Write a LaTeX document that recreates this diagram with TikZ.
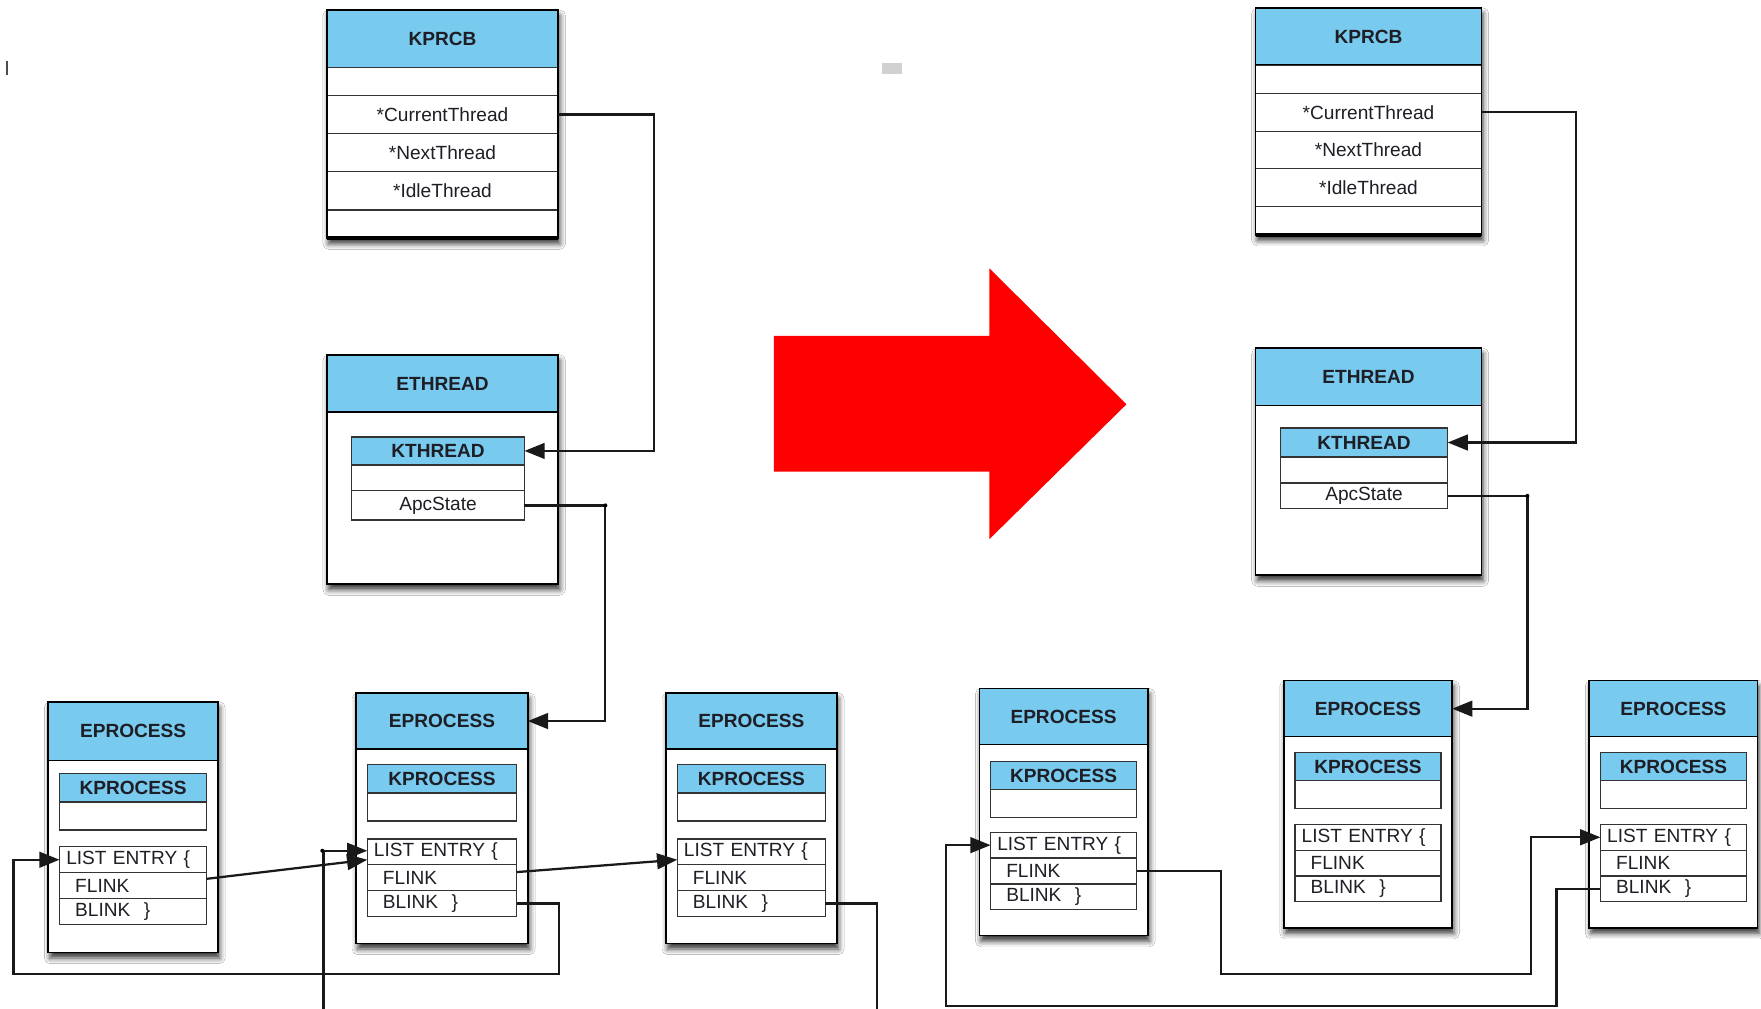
\documentclass[tikz,border=0pt]{standalone}
\usepackage{fontspec}
\setmainfont{Liberation Sans}
\usetikzlibrary{arrows.meta,shadows.blur}
\definecolor{hblue}{RGB}{120,202,238}
\definecolor{txt}{RGB}{30,30,38}
\newcommand{\fs}{\fontsize{17}{19}\selectfont}
\newcommand{\cellnode}[7]{%
  \pgfmathsetmacro\cellW{(#5)-(#3)}\pgfmathsetmacro\cellH{(#6)-(#4)}%
  \node[#2, minimum width=\cellW pt, minimum height=\cellH pt] (#1) at ({((#3)+(#5))/2},{-((#4)+(#6))/2}) {#7};}
\newcommand{\lcell}[8]{%
  \pgfmathsetmacro\cellW{(#5)-(#3)}\pgfmathsetmacro\cellH{(#6)-(#4)}\pgfmathsetmacro\cellT{(#5)-(#3)-2*(#7)}%
  \node[#2, minimum width=\cellW pt, minimum height=\cellH pt, inner xsep=#7pt, text width=\cellT pt, align=left] (#1) at ({((#3)+(#5))/2},{-((#4)+(#6))/2}) {#8};}
\newcommand{\eproc}[8]{%
  \pgfmathsetmacro\ixa{#2+10}\pgfmathsetmacro\ixb{#3-10}%
  \pgfmathsetmacro\kpa{#7+25}\pgfmathsetmacro\kpb{#7+50}%
  \pgfmathsetmacro\la{#8+23}\pgfmathsetmacro\lb{#8+46}\pgfmathsetmacro\lc{#8+69}%
  \cellnode{#1o}{outer}{#2}{#4}{#3}{#6}{}
  \cellnode{#1h}{hdr}{#2}{#4}{#3}{#5}{EPROCESS}
  \cellnode{#1k}{innerhdr}{\ixa}{#7}{\ixb}{\kpa}{KPROCESS}
  \cellnode{#1b}{row}{\ixa}{\kpa}{\ixb}{\kpb}{}
  \lcell{#1le}{row}{\ixa}{#8}{\ixb}{\la}{6}{LIST ENTRY \{}
  \lcell{#1fl}{row}{\ixa}{\la}{\ixb}{\lb}{14}{FLINK}
  \lcell{#1bl}{row}{\ixa}{\lb}{\ixb}{\lc}{14}{BLINK\hspace{12pt}\}}
  \draw[boxline] (#1o.north west) rectangle (#1o.south east);}
\begin{document}
\begin{tikzpicture}[x=1pt,y=1pt,
  cellbase/.style={rectangle, inner sep=0pt, outer sep=0pt, font=\fs, text=txt},
  outer/.style={cellbase, draw=black, line width=1.5pt, fill=white,
     blur shadow={shadow xshift=1.5pt, shadow yshift=-5pt, shadow blur radius=5pt, shadow opacity=80}},
  hdr/.style={cellbase, draw=black, line width=1.3pt, fill=hblue, font=\fs\bfseries},
  innerhdr/.style={cellbase, draw=black!80, line width=1.1pt, fill=hblue, font=\fs\bfseries},
  row/.style={cellbase, draw=black!80, line width=1.1pt, fill=white},
  boxline/.style={draw=black, line width=1.5pt},
  conn/.style={draw=black!90, line width=2pt},
  arr/.style={conn, -{Triangle[length=18pt,width=14pt]}}]
\fill[white] (0,0) rectangle (1568,-898);
\useasboundingbox (0,0) rectangle (1568,-898);
% stray marks
\fill[black!70] (5,-54) rectangle (6.8,-67);
\fill[black!18] (785,-56) rectangle (803,-66);
% ---------- left KPRCB
\cellnode{kplo}{outer}{291}{9}{497}{212}{}
\cellnode{kplh}{hdr}{291}{9}{497}{60}{KPRCB}
\cellnode{kpl0}{row}{291}{60}{497}{85}{}
\cellnode{kplc}{row}{291}{85}{497}{119}{*CurrentThread}
\cellnode{kpln}{row}{291}{119}{497}{153}{*NextThread}
\cellnode{kpli}{row}{291}{153}{497}{187}{*IdleThread}
\cellnode{kpl4}{row}{291}{187}{497}{212}{}
\draw[boxline] (kplo.north west) rectangle (kplo.south east);
\draw[line width=3.5pt] (kplo.south west) -- (kplo.south east);
% ---------- right KPRCB
\cellnode{kpro}{outer}{1118}{7}{1319}{209}{}
\cellnode{kprh}{hdr}{1118}{7}{1319}{58}{KPRCB}
\cellnode{kpr0}{row}{1118}{58}{1319}{83}{}
\cellnode{kprc}{row}{1118}{83}{1319}{117}{*CurrentThread}
\cellnode{kprn}{row}{1118}{117}{1319}{150}{*NextThread}
\cellnode{kpri}{row}{1118}{150}{1319}{184}{*IdleThread}
\cellnode{kpr4}{row}{1118}{184}{1319}{209}{}
\draw[boxline] (kpro.north west) rectangle (kpro.south east);
\draw[line width=3.5pt] (kpro.south west) -- (kpro.south east);
% ---------- left ETHREAD
\cellnode{etlo}{outer}{291}{316}{497}{520}{}
\cellnode{etlh}{hdr}{291}{316}{497}{367}{ETHREAD}
\cellnode{ktlh}{innerhdr}{313}{389}{467}{414}{KTHREAD}
\cellnode{ktl1}{row}{313}{414}{467}{437}{}
\cellnode{ktla}{row}{313}{437}{467}{463}{ApcState}
\draw[boxline] (etlo.north west) rectangle (etlo.south east);
% ---------- right ETHREAD
\cellnode{etro}{outer}{1118}{310}{1319}{512}{}
\cellnode{etrh}{hdr}{1118}{310}{1319}{361}{ETHREAD}
\cellnode{ktrh}{innerhdr}{1140}{381}{1289}{407}{KTHREAD}
\cellnode{ktr1}{row}{1140}{407}{1289}{430}{}
\cellnode{ktra}{row}{1140}{430}{1289}{453}{ApcState}
\draw[boxline] (etro.north west) rectangle (etro.south east);
% ---------- EPROCESS boxes
\eproc{A}{43}{194}{625}{677}{848}{689}{754}
\eproc{B}{317}{470}{617}{667}{840}{681}{747}
\eproc{C}{593}{745}{617}{667}{840}{681}{747}
\eproc{D}{872}{1022}{613}{663}{833}{678}{741}
\eproc{E}{1143}{1293}{606}{656}{826}{670}{734}
\eproc{F}{1415}{1565}{606}{656}{826}{670}{734}
% ---------- red arrow
\fill[red] (689,-299) -- (881,-299) -- (881,-239) -- (1003,-360) -- (881,-480) -- (881,-420) -- (689,-420) -- cycle;
% ---------- connectors left
\coordinate (botL1) at (288,-898);
\coordinate (botL2) at (781,-898);
\draw[arr] (kplc.east) -- ++(85,0) |- (ktlh.east);
\draw[arr] (ktla.east) -- ++(72,0) |- (Bh.east);
\fill (539,-450) circle (1.8);
\draw[arr] ([yshift=6pt]Afl.east) -- ([yshift=-7pt]Ble.west);
\draw[arr] ([yshift=5pt]Bfl.east) -- ([yshift=-7pt]Cle.west);
\draw[arr] (Bbl.east) -| (498,-867) -| (12,-800) |- (Ale.west);
\draw[arr] (botL1) |- ([yshift=1pt]Ble.west);
\fill (287,-757.5) circle (1.8);
\draw[conn] (Cbl.east) -| (botL2);
% ---------- connectors right
\draw[arr] (kprc.east) -- ++(84,0) |- (ktrh.east);
\draw[arr] (ktra.east) -- ++(71,0) |- (Eh.east);
\fill (1360,-441.5) circle (1.8);
\draw[arr] (Dfl.east) -| (1087,-867) -| (1363,-800) |- (Fle.west);
\draw[arr] (Fbl.west) -| (1386,-896) -| (842,-800) |- (Dle.west);
\end{tikzpicture}
\end{document}
